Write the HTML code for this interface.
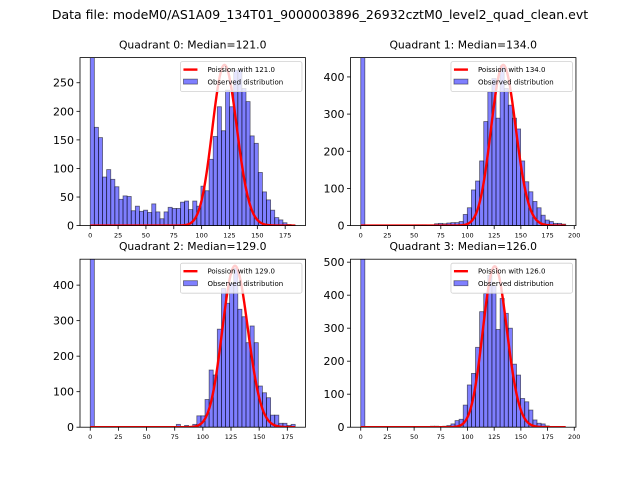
<!DOCTYPE html>
<html><head><meta charset="utf-8">
<style>
html,body{margin:0;padding:0;background:#fff;width:640px;height:480px;overflow:hidden;}
svg{display:block;font-family:"DejaVu Sans","Liberation Sans",sans-serif;}
</style></head>
<body>
<svg id="fig" width="640" height="480" viewBox="0 0 640 480" xmlns="http://www.w3.org/2000/svg">
<rect width="640" height="480" fill="#fff"/>
<text x="320" y="19" text-anchor="middle" font-size="12.5">Data file: modeM0/AS1A09_134T01_9000003896_26932cztM0_level2_quad_clean.evt</text>
</svg>
<script>
const quadrantNames = ["Quadrant 0: Median=121.0","Quadrant 1: Median=134.0","Quadrant 2: Median=129.0","Quadrant 3: Median=126.0"];
const poissonLambda = [121.0, 134.0, 129.0, 126.0];
const poissonPeak = [281, 432, 454, 487];
const dataMax = [184, 192, 182, 192];
const yMax = [294, 452, 473, 509];
const yTickStep = [50, 100, 100, 100];
const yTickTop = [250, 400, 400, 500];
const xTickTop = [175, 200, 175, 200];
const counts0 = [600,172,154,85,98,81,68,46,52,51,26,34,25,27,23,38,24,12,24,32,30,30,41,43,28,43,34,69,61,116,156,208,166,237,208,272,272,240,217,157,144,93,59,45,27,14,10,5,2,1];
const counts1 = [600,0,0,0,0,0,0,0,0,0,0,0,0,2,2,2,1,2,5,6,5,7,8,8,11,30,48,96,120,174,280,360,396,289,430,369,324,289,260,174,118,91,65,48,28,15,11,6,6,4];
const counts2 = [600,0,0,0,0,0,0,0,0,0,0,0,0,0,0,0,0,0,0,2,0,8,0,5,2,8,32,32,78,161,147,276,391,349,405,447,332,311,238,285,238,116,97,83,34,34,11,11,5,8];
const counts3 = [600,0,0,0,0,0,0,0,0,0,0,0,0,0,0,0,0,3,3,0,3,5,10,20,24,67,128,163,242,350,405,460,430,296,390,345,300,191,158,87,77,52,22,12,10,4,0,0,0,0];
const allCounts = [counts0, counts1, counts2, counts3];

const NS = "http://www.w3.org/2000/svg";
const svg = document.getElementById('fig');
function mk(tag, attrs, parent){const e=document.createElementNS(NS,tag);for(const k in attrs)e.setAttribute(k,attrs[k]);(parent||svg).appendChild(e);return e;}
function lgamma(z){
  if (z < 7) { let s=0; while(z<7){ s -= Math.log(z); z+=1; } return s + lgamma(z); }
  return (z-0.5)*Math.log(z) - z + 0.5*Math.log(2*Math.PI) + 1/(12*z) - 1/(360*z*z*z);
}
const axL=[80,350.5,80,350.5], axT=[57.6,57.6,259.2,259.2], axW=225.45, axH=168;

for (let p=0;p<4;p++){
  const L=axL[p], T=axT[p], B=T+axH;
  const dm=dataMax[p], xmin=-0.05*dm, xmax=dm*1.05;
  const X=v=>L+(v-xmin)/(xmax-xmin)*axW;
  const Y=v=>B-v/yMax[p]*axH;
  const g=mk('g',{});
  
  
  const cp=mk('clipPath',{id:'clip'+p},g);
  mk('rect',{x:L,y:T,width:axW,height:axH},cp);
  const bars=mk('g',{'clip-path':'url(#clip'+p+')'},g);
  const counts=allCounts[p], n=counts.length, bw=dm/n;
  for(let i=0;i<n;i++){
    if(counts[i]<=0) continue;
    const x0=X(i*bw), x1=X((i+1)*bw), y=Y(counts[i]);
    const r=mk('rect',{x:x0,y:y,width:x1-x0,height:B-y,fill:'rgba(0,0,255,0.5)',stroke:'rgba(0,0,0,0.55)','stroke-width':0.8},bars);
    
    
  }
  const lam=poissonLambda[p];
  const logPeak = lam*Math.log(lam)-lam-lgamma(lam+1);
  let d='';
  for(let k=0;k<=dm;k+=0.5){
    const lv=k*Math.log(lam)-lam-lgamma(k+1);
    const v=poissonPeak[p]*Math.exp(lv-logPeak);
    d+=(k===0?'M':'L')+X(k).toFixed(2)+','+Y(v).toFixed(2);
  }
  const curve=mk('path',{d:d,fill:'none',stroke:'#ff0000','stroke-width':2.4},bars);
  
  
  const fr=mk('rect',{x:L,y:T,width:axW,height:axH,fill:'none',stroke:'#000','stroke-width':0.8},g);
  
  
  for(let v=0;v<=xTickTop[p];v+=25){
    mk('line',{x1:X(v),x2:X(v),y1:B,y2:B+3.5,stroke:'#000','stroke-width':0.8},g);
    const t=mk('text',{x:X(v),y:B+12,'text-anchor':'middle','font-size':6.5},g);
    t.textContent=v;
    
    
  }
  for(let v=0;v<=yTickTop[p];v+=yTickStep[p]){
    mk('line',{x1:L-3.5,x2:L,y1:Y(v),y2:Y(v),stroke:'#000','stroke-width':0.8},g);
    const t=mk('text',{x:L-6,y:Y(v)+4,'text-anchor':'end','font-size':11},g);
    t.textContent=v;
    
    
  }
  const title=mk('text',{x:L+axW/2,y:T-9,'text-anchor':'middle','font-size':10.8},g);
  title.textContent=quadrantNames[p];
  
  
  const lx=L+axW-125, ly=T+4;
  const lg=mk('g',{},g);
  
  
  mk('rect',{x:lx,y:ly,width:121.5,height:30,rx:2,fill:'rgba(255,255,255,0.8)',stroke:'#d0d0d0','stroke-width':0.8},lg);
  mk('line',{x1:lx+3,x2:lx+17,y1:ly+8,y2:ly+8,stroke:'#ff0000','stroke-width':2.4},lg);
  const t1=mk('text',{x:lx+27,y:ly+10.5,'font-size':7},lg);
  t1.textContent='Poission with '+lam.toFixed(1);
  
  
  mk('rect',{x:lx+3,y:ly+17.5,width:14,height:5,fill:'rgba(0,0,255,0.5)',stroke:'rgba(0,0,0,0.5)','stroke-width':0.8},lg);
  const t2=mk('text',{x:lx+27,y:ly+23,'font-size':7},lg);
  t2.textContent='Observed distribution';
  
  
}
</script>
</body></html>
